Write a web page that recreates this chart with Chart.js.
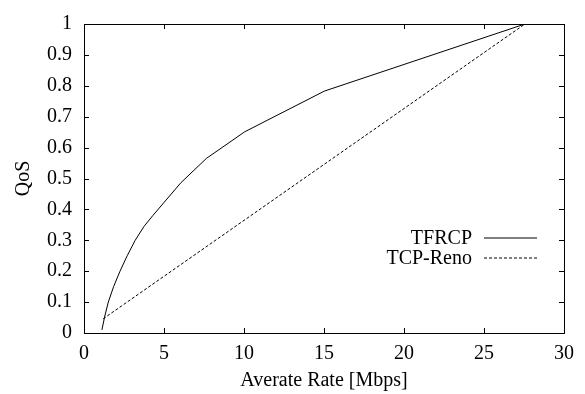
<!DOCTYPE html>
<html>
<head>
<meta charset="utf-8">
<script src="https://cdn.jsdelivr.net/npm/chart.js@4"></script>
<style>
  html, body { margin: 0; padding: 0; background: #fff; }
  #wrap { width: 585px; height: 394px; }
</style>
</head>
<body>
<div id="wrap"><canvas id="qos" width="585" height="394"></canvas></div>
<script>
// valores
const tfrcpX = [1.12, 1.3, 1.52, 1.85, 2.25, 2.7, 3.2, 3.75, 4.3, 6.05, 7.65, 10.04, 15.03, 27.56];
const tfrcpY = [0.01, 0.055, 0.1, 0.15, 0.2, 0.25, 0.3, 0.345, 0.38, 0.486, 0.565, 0.651, 0.783, 1.0];
const renoX  = [1.2, 27.56];
const renoY  = [0.046, 1.0];
const xTicks = [0, 5, 10, 15, 20, 25, 30];
const yTicks = [0, 0.1, 0.2, 0.3, 0.4, 0.5, 0.6, 0.7, 0.8, 0.9, 1];

const FUENTE = "'Liberation Serif', 'Times New Roman', serif";
const TAM = 20;

function puntos(xs, ys) { return xs.map((x, i) => ({ x, y: ys[i] })); }

// marcas hacia adentro en los cuatro lados + caja + leyenda
const marcas = {
  id: 'marcas',
  afterDraw(chart) {
    const { ctx, chartArea: a, scales: { x, y } } = chart;
    const L = 5;
    ctx.save();
    ctx.strokeStyle = '#000';
    ctx.lineWidth = 1;
    ctx.beginPath();
    xTicks.forEach(v => {
      const px = Math.round(x.getPixelForValue(v)) + 0.5;
      ctx.moveTo(px, a.bottom); ctx.lineTo(px, a.bottom - L);
      ctx.moveTo(px, a.top);    ctx.lineTo(px, a.top + L);
    });
    yTicks.forEach(v => {
      const py = Math.round(y.getPixelForValue(v)) + 0.5;
      ctx.moveTo(a.left, py);  ctx.lineTo(a.left + L, py);
      ctx.moveTo(a.right, py); ctx.lineTo(a.right - L, py);
    });
    ctx.stroke();
    ctx.strokeRect(Math.round(a.left) + 0.5, Math.round(a.top) + 0.5,
                   Math.round(a.right - a.left), Math.round(a.bottom - a.top));

    // leyenda
    ctx.font = TAM + 'px ' + FUENTE;
    ctx.fillStyle = '#000';
    ctx.textAlign = 'right';
    ctx.textBaseline = 'middle';
    chart.data.datasets.forEach((ds, i) => {
      const ty = 239 + i * 20;
      ctx.fillText(ds.label, 472, ty);
      ctx.beginPath();
      ctx.setLineDash(ds.borderDash || []);
      ctx.moveTo(484, ty - 1);
      ctx.lineTo(537, ty - 1);
      ctx.stroke();
    });
    ctx.restore();
  }
};

new Chart(document.getElementById('qos'), {
  type: 'scatter',
  data: {
    datasets: [
      {
        label: 'TFRCP',
        data: puntos(tfrcpX, tfrcpY),
        showLine: true,
        borderColor: '#000',
        borderWidth: 1,
        pointRadius: 0,
        tension: 0,
        borderDash: []
      },
      {
        label: 'TCP-Reno',
        data: puntos(renoX, renoY),
        showLine: true,
        borderColor: '#000',
        borderWidth: 1,
        pointRadius: 0,
        tension: 0,
        borderDash: [3, 2]
      }
    ]
  },
  plugins: [marcas],
  options: {
    responsive: false,
    animation: false,
    layout: { padding: { left: 0, top: 15, right: 21, bottom: 0 } },
    plugins: { legend: { display: false }, tooltip: { enabled: false } },
    scales: {
      x: {
        type: 'linear',
        min: 0, max: 30,
        afterFit: s => { s.height = 61; },
        afterBuildTicks: s => { s.ticks = xTicks.map(v => ({ value: v })); },
        grid: { display: false, drawTicks: false },
        border: { display: false },
        ticks: { color: '#000', padding: 9, font: { family: FUENTE, size: TAM }, maxRotation: 0 },
        title: { display: true, text: 'Averate Rate [Mbps]', color: '#000',
                 font: { family: FUENTE, size: TAM }, padding: { top: 0, bottom: 1 } }
      },
      y: {
        type: 'linear',
        min: 0, max: 1,
        afterFit: s => { s.width = 84; },
        afterBuildTicks: s => { s.ticks = yTicks.map(v => ({ value: v })); },
        grid: { display: false, drawTicks: false },
        border: { display: false },
        ticks: { color: '#000', padding: 12, font: { family: FUENTE, size: TAM },
                 callback: v => String(+v.toFixed(1)) },
        title: { display: true, text: 'QoS', color: '#000',
                 font: { family: FUENTE, size: TAM }, padding: { top: 12, bottom: 0 } }
      }
    }
  }
});
</script>
</body>
</html>
